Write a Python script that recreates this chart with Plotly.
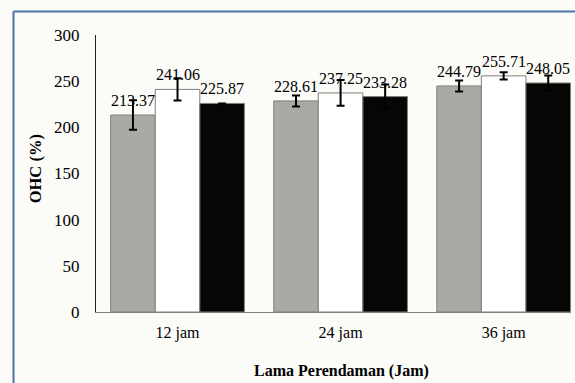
import plotly.graph_objects as go

categories = ["12 jam", "24 jam", "36 jam"]
series_names = ["Perlakuan 1", "Perlakuan 2", "Perlakuan 3"]
values_gray = [213.37, 228.61, 244.79]
values_white = [241.06, 237.25, 255.71]
values_black = [225.87, 233.28, 248.05]
err_gray = [16, 6, 6]
err_white = [12, 14, 4]
err_black = [0, 13, 8]
y_ticks = [0, 50, 100, 150, 200, 250, 300]

series = [
    (series_names[0], values_gray, err_gray, "#aaaaa5"),
    (series_names[1], values_white, err_white, "#ffffff"),
    (series_names[2], values_black, err_black, "#060604"),
]

FONT = "Liberation Serif, Times New Roman, serif"
W, H = 575, 383
L, R, T, B = 96, 4, 35, 71
pw, ph = W - L - R, H - T - B

fig = go.Figure()
for name, vals, errs, col in series:
    fig.add_trace(go.Bar(
        x=categories, y=vals, name=name,
        marker=dict(color=col, line=dict(color="#7f7f7f", width=1)),
        error_y=dict(type="data", array=errs, visible=True, color="#000000",
                     thickness=2, width=4),
        showlegend=False,
    ))

# value labels above each bar
bar_px = pw / 2.913 * (1 - 0.18) / 3
for i, (name, vals, errs, col) in enumerate(series):
    for c, v in zip(categories, vals):
        fig.add_annotation(x=c, y=v, text=f"{v:.2f}", showarrow=False,
                           xref="x", yref="y", xanchor="center", yanchor="bottom",
                           xshift=(i - 1) * bar_px, yshift=4,
                           font=dict(family=FONT, size=16, color="#000000"))

# axis titles
fig.add_annotation(text="<b>OHC (%)</b>", xref="paper", yref="paper",
                   x=(35.5 - L) / pw, y=(312 - 168.8) / ph, textangle=-90,
                   showarrow=False, xanchor="center", yanchor="middle",
                   font=dict(family=FONT, size=16.5, color="#000000"))
fig.add_annotation(text="<b>Lama Perendaman (Jam)</b>", xref="paper", yref="paper",
                   x=(341.7 - L) / pw, y=(312 - 371) / ph,
                   showarrow=False, xanchor="center", yanchor="middle",
                   font=dict(family=FONT, size=16, color="#000000"))

# blue frame (left and top edges)
fx = (13.5 - L) / pw
fy = (312 - 11.5) / ph
fig.add_shape(type="line", xref="paper", yref="paper", x0=fx, x1=fx, y0=fy,
              y1=(312 - 400) / ph, line=dict(color="#4f74a8", width=2))
fig.add_shape(type="line", xref="paper", yref="paper", x0=fx, x1=(600 - L) / pw,
              y0=fy, y1=fy, line=dict(color="#4f74a8", width=2))

fig.update_layout(
    width=W, height=H,
    margin=dict(l=L, r=R, t=T, b=B, pad=0),
    barmode="group", bargap=0.18, bargroupgap=0,
    paper_bgcolor="#fbfbf8", plot_bgcolor="#fbfbf8",
    font=dict(family=FONT, color="#000000"),
)
fig.update_xaxes(range=[-0.5, 2.413], showline=True, linecolor="#808080",
                 linewidth=1, ticks="", showgrid=False, zeroline=False,
                 tickfont=dict(family=FONT, size=16, color="#000000"),
                 ticklabelstandoff=6)
fig.update_yaxes(range=[0, 300], tickvals=y_ticks, showline=True,
                 linecolor="#222222", linewidth=1, ticks="", showgrid=False,
                 zeroline=False,
                 tickfont=dict(family=FONT, size=17, color="#000000"),
                 ticklabelstandoff=12)

fig.write_html("out.html")
